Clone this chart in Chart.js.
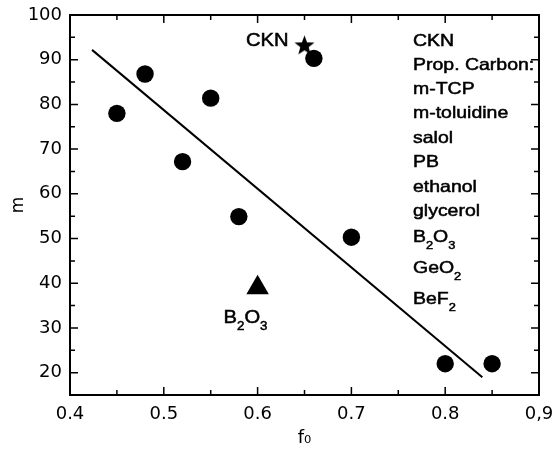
<!DOCTYPE html>
<html>
<head>
<meta charset="utf-8">
<script src="https://cdn.jsdelivr.net/npm/chart.js@4.4.1/dist/chart.umd.min.js"></script>
<style>
  html, body { margin: 0; padding: 0; background: #fff; }
  canvas { display: block; }
</style>
</head>
<body>
<canvas id="chart" width="553" height="455"></canvas>
<script>
// measured values
const circleX = [0.45, 0.48, 0.52, 0.55, 0.58, 0.66, 0.70, 0.80, 0.85];
const circleY = [78.0, 86.8, 67.2, 81.4, 54.9, 90.3, 50.3, 22.0, 22.0];
const starX = [0.65];
const starY = [93.1];
const triangleX = [0.60];
const triangleY = [39.0];
const fitX = [0.4235, 0.8396];
const fitY = [92.2, 18.95];

const xTicks = [0.4, 0.5, 0.6, 0.7, 0.8, 0.9];
const xTickLabels = ['0.4', '0.5', '0.6', '0.7', '0.8', '0,9'];
const xMinorTicks = [0.45, 0.55, 0.65, 0.75, 0.85];
const yTicks = [20, 30, 40, 50, 60, 70, 80, 90, 100];
const yMinorTicks = [25, 35, 45, 55, 65, 75, 85, 95];

// "_" marks a one character subscript
const materials = ['CKN', 'Prop. Carbon:', 'm-TCP', 'm-toluidine', 'salol', 'PB',
    'ethanol', 'glycerol', 'B_2O_3', 'GeO_2', 'BeF_2'];
const starLabel = 'CKN';
const triangleLabel = 'B_2O_3';

function toPoints(xs, ys) {
    return xs.map((x, i) => ({ x: x, y: ys[i] }));
}

function makeStar(outer) {
    const c = document.createElement('canvas');
    c.width = c.height = Math.ceil(outer * 2 + 2);
    const g = c.getContext('2d');
    const cx = c.width / 2, cy = c.height / 2;
    g.beginPath();
    for (let i = 0; i < 10; i++) {
        const r = i % 2 === 0 ? outer : outer * 0.42;
        const a = -Math.PI / 2 + i * Math.PI / 5;
        g.lineTo(cx + r * Math.cos(a), cy + r * Math.sin(a));
    }
    g.closePath();
    g.fillStyle = '#000';
    g.fill();
    return c;
}

function drawChem(ctx, text, x, y, size, stretch, align) {
    const parts = [];
    for (let i = 0; i < text.length; i++) {
        if (text[i] === '_' && i + 1 < text.length) {
            parts.push({ t: text[i + 1], sub: true });
            i++;
        } else {
            parts.push({ t: text[i], sub: false });
        }
    }
    const mainFont = size + "px 'Liberation Sans', Arial, sans-serif";
    const subFont = (size * 0.66) + "px 'Liberation Sans', Arial, sans-serif";
    let width = 0;
    parts.forEach(p => {
        ctx.font = p.sub ? subFont : mainFont;
        p.w = ctx.measureText(p.t).width;
        width += p.w;
    });
    if (align === 'right') x -= width * stretch;
    ctx.save();
    ctx.translate(x, y);
    ctx.scale(stretch, 1);
    ctx.textBaseline = 'alphabetic';
    ctx.textAlign = 'left';
    ctx.fillStyle = '#000';
    ctx.strokeStyle = '#000';
    ctx.lineWidth = 0.5;
    let cur = 0;
    parts.forEach(p => {
        ctx.font = p.sub ? subFont : mainFont;
        const dy = p.sub ? size * 0.42 : 0;
        ctx.fillText(p.t, cur, dy);
        ctx.strokeText(p.t, cur, dy);
        cur += p.w;
    });
    ctx.restore();
}

const frameAndNotes = {
    id: 'frameAndNotes',
    afterDatasetsDraw(chart) {
        const { ctx, chartArea: a, scales: { x, y } } = chart;
        ctx.save();
        ctx.strokeStyle = '#000';
        ctx.lineWidth = 2;
        ctx.strokeRect(a.left, a.top, a.right - a.left, a.bottom - a.top);

        // inward ticks on all four sides
        ctx.lineWidth = 1.5;
        ctx.beginPath();
        const xt = (list, len) => list.forEach(v => {
            const px = x.getPixelForValue(v);
            ctx.moveTo(px, a.bottom); ctx.lineTo(px, a.bottom - len);
            ctx.moveTo(px, a.top); ctx.lineTo(px, a.top + len);
        });
        const yt = (list, len) => list.forEach(v => {
            const py = y.getPixelForValue(v);
            ctx.moveTo(a.left, py); ctx.lineTo(a.left + len, py);
            ctx.moveTo(a.right, py); ctx.lineTo(a.right - len, py);
        });
        xt(xTicks, 8); xt(xMinorTicks, 5);
        yt(yTicks, 8); yt(yMinorTicks, 5);
        ctx.stroke();

        ctx.beginPath();
        ctx.rect(a.left, a.top, a.right - a.left, a.bottom - a.top);
        ctx.clip();

        // material list
        const rows = [31, 55, 79, 103, 128, 152, 177, 201, 227, 258, 289];
        materials.forEach((m, i) => {
            drawChem(ctx, m, a.left + 343, a.top + rows[i], 16.5, 1.18, 'left');
        });

        // point labels
        const sx = x.getPixelForValue(starX[0]), sy = y.getPixelForValue(starY[0]);
        drawChem(ctx, starLabel, sx - 16, sy, 18, 1.12, 'right');
        const tx = x.getPixelForValue(triangleX[0]), ty = y.getPixelForValue(triangleY[0]);
        drawChem(ctx, triangleLabel, tx - 34, ty + 35, 18, 1.12, 'left');
        ctx.restore();
    }
};

const tickFont = { family: "'DejaVu Sans'", size: 18 };

window.addEventListener('load', function () {
    const ctx = document.getElementById('chart').getContext('2d');
    new Chart(ctx, {
        type: 'scatter',
        data: {
            datasets: [{
                data: toPoints(fitX, fitY),
                showLine: true,
                borderColor: '#000',
                borderWidth: 2,
                pointRadius: 0,
                fill: false,
                order: 3
            }, {
                data: toPoints(starX, starY),
                pointStyle: makeStar(10.5),
                pointRadius: 10,
                order: 2
            }, {
                data: toPoints(circleX, circleY),
                pointStyle: 'circle',
                pointRadius: 8.7,
                backgroundColor: '#000',
                borderWidth: 0,
                order: 1
            }, {
                data: toPoints(triangleX, triangleY),
                pointStyle: 'triangle',
                pointRadius: 13,
                backgroundColor: '#000',
                borderWidth: 0,
                order: 1
            }]
        },
        options: {
            responsive: false,
            animation: false,
            events: [],
            layout: {
                padding: { top: 15, right: 14, bottom: 0, left: 0 }
            },
            plugins: {
                legend: { display: false },
                tooltip: { enabled: false }
            },
            scales: {
                x: {
                    type: 'linear',
                    min: 0.4,
                    max: 0.9,
                    grid: { display: false, drawTicks: false },
                    border: { display: false },
                    afterBuildTicks: s => { s.ticks = xTicks.map(v => ({ value: v })); },
                    afterFit: s => { s.height = 60; s.paddingLeft = 0; s.paddingRight = 0; },
                    ticks: {
                        color: '#000',
                        font: tickFont,
                        padding: 9,
                        maxRotation: 0,
                        autoSkip: false,
                        callback: (v, i) => xTickLabels[i]
                    },
                    title: {
                        display: true,
                        text: 'f₀',
                        color: '#000',
                        font: tickFont,
                        padding: { top: 0, bottom: 6 }
                    }
                },
                y: {
                    type: 'linear',
                    min: 15,
                    max: 100,
                    grid: { display: false, drawTicks: false },
                    border: { display: false },
                    afterBuildTicks: s => { s.ticks = yTicks.map(v => ({ value: v })); },
                    afterFit: s => { s.width = 70; s.paddingTop = 0; s.paddingBottom = 0; },
                    ticks: {
                        color: '#000',
                        font: tickFont,
                        padding: 8,
                        autoSkip: false
                    },
                    title: {
                        display: true,
                        text: 'm',
                        color: '#000',
                        font: { family: "'DejaVu Sans'", size: 17 },
                        padding: { top: 8, bottom: 0 }
                    }
                }
            }
        },
        plugins: [frameAndNotes]
    });
});
</script>
</body>
</html>
